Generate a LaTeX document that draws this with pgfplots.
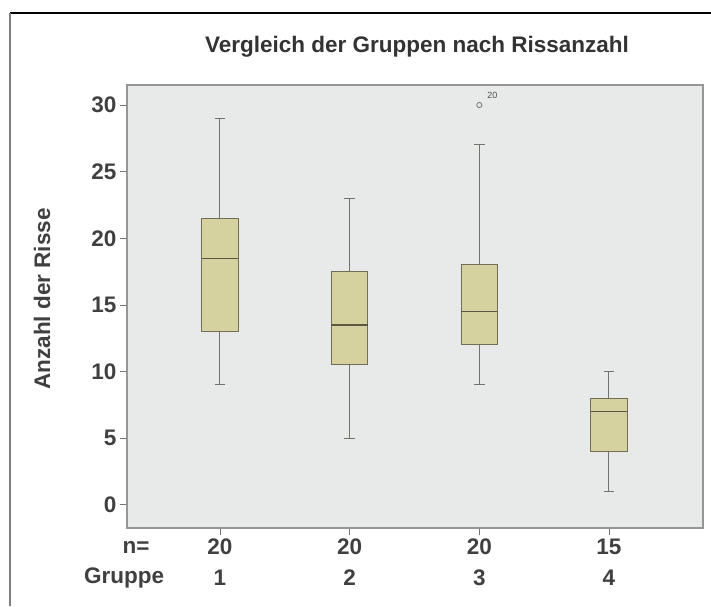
\documentclass[border=0pt]{standalone}
\usepackage{pgfplots}
\pgfplotsset{compat=1.18}
\usepgfplotslibrary{statistics}
\usepackage{fontspec}
\setmainfont{Liberation Sans}
\definecolor{bg}{RGB}{232,234,233}
\definecolor{boxfill}{RGB}{214,210,160}
\definecolor{boxedge}{RGB}{112,110,84}
\definecolor{whisk}{RGB}{115,115,110}
\definecolor{frame}{RGB}{150,150,150}
\begin{document}
\begin{tikzpicture}
\path[use as bounding box] (0pt,0pt) rectangle (711pt,606pt);
\draw[black, line width=1.3pt] (10pt,593pt) -- (711pt,593pt);
\draw[gray, line width=1.6pt] (10pt,593pt) -- (10pt,0pt);
\begin{axis}[
  at={(127pt,78pt)}, anchor=south west,
  scale only axis, width=576pt, height=443pt,
  xmin=0.283, xmax=4.725, ymin=-1.73, ymax=31.5,
  axis background/.style={fill=bg},
  axis line style={draw=frame, line width=1.2pt},
  xtick={1,2,3,4},
  xticklabels={{20\\1},{20\\2},{20\\3},{15\\4}},
  ytick={0,5,10,15,20,25,30},
  /pgf/number format/assume math mode=true,
  tick align=outside, tick pos=left,
  major tick length=7pt,
  tick style={draw=whisk, line width=0.9pt},
  xticklabel style={align=center, font=\fontsize{22.5}{31}\selectfont\bfseries\color{black!75}},
  yticklabel style={font=\fontsize{22.5}{26}\selectfont\bfseries\color{black!75}},
  boxplot/draw direction=y,
  boxplot/box extend=0.28,
  boxplot/whisker extend=0.08,
  boxplot/every box/.style={draw=boxedge, fill=boxfill, line width=1pt},
  boxplot/every median/.style={draw=boxedge!80!black, line width=1.3pt},
  boxplot/every whisker/.style={draw=whisk, line width=1pt},
  clip=false,
]
\addplot[boxplot prepared={draw position=1, lower whisker=9, lower quartile=13, median=18.5, upper quartile=21.5, upper whisker=29}] coordinates {};
\addplot[boxplot prepared={draw position=2, lower whisker=5, lower quartile=10.5, median=13.5, upper quartile=17.5, upper whisker=23}] coordinates {};
\addplot[boxplot prepared={draw position=3, lower whisker=9, lower quartile=12, median=14.5, upper quartile=18, upper whisker=27}, mark=o, mark size=2.6pt, mark options={draw=whisk, line width=0.8pt}] coordinates {(0,30)};
\addplot[boxplot prepared={draw position=4, lower whisker=1, lower quartile=4, median=7, upper quartile=8, upper whisker=10}] coordinates {};
\node[font=\fontsize{9}{10}\selectfont, text=black!70] at (axis cs:3.1,30.7) {20};
\end{axis}
\node[font=\fontsize{22.5}{26}\selectfont\bfseries, text=black!80] at (417pt,559pt) {Vergleich der Gruppen nach Rissanzahl};
\node[rotate=90, font=\fontsize{22.5}{26}\selectfont\bfseries, text=black!75] at (42pt,307pt) {Anzahl der Risse};
\node[font=\fontsize{22.5}{26}\selectfont\bfseries, text=black!75] at (136pt,59pt) {n=};
\node[font=\fontsize{22.5}{26}\selectfont\bfseries, text=black!75] at (124pt,28pt) {Gruppe};
\end{tikzpicture}
\end{document}
